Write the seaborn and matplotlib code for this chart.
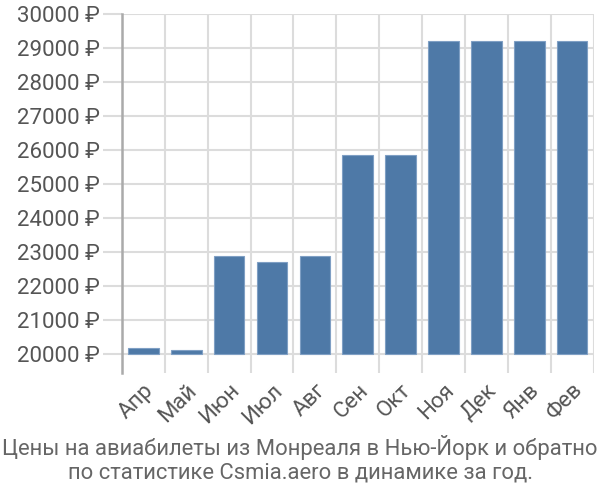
import matplotlib
matplotlib.use("Agg")
import matplotlib.pyplot as plt
import seaborn as sns
import pandas as pd
from matplotlib.ticker import FixedLocator, FuncFormatter

months = ["Апр", "Май", "Июн", "Июл", "Авг", "Сен", "Окт", "Ноя", "Дек", "Янв", "Фев"]
prices = [20170, 20110, 22880, 22720, 22880, 25850, 25850, 29210, 29210, 29210, 29210]
yticks = [20000, 21000, 22000, 23000, 24000, 25000, 26000, 27000, 28000, 29000, 30000]
base = 20000
title_lines = ["Цены на авиабилеты из Монреаля в Нью-Йорк и обратно",
               "по статистике Csmia.aero в динамике за год."]

sns.set_theme(style="white")
plt.rcParams['font.family'] = ['Roboto', 'DejaVu Sans']

df = pd.DataFrame({"month": months, "price": prices})

fig = plt.figure(figsize=(6, 5), dpi=100)
ax = fig.add_axes([122/600, 1 - 373/500, (593.5 - 122)/600, (373 - 14)/500])

sns.barplot(data=df, x="month", y="price", color="#4e79a7", width=0.715,
            saturation=1, edgecolor="#7f9fc4", linewidth=0.8, ax=ax, zorder=3)

for p, v in zip(ax.patches, prices):
    p.set_y(base)
    p.set_height(v - base)

ax.set_xlim(-0.5, len(months) - 0.5)
ax.set_ylim(base - (373 - 354) / 34 * 1000, 30000)

grid_c = "#dcdcdc"
fs = 16.0
ax.yaxis.set_major_locator(FixedLocator(yticks))
ax.yaxis.set_major_formatter(FuncFormatter(lambda v, pos: f"{int(v)} ₽"))
ax.xaxis.set_minor_locator(FixedLocator([i - 0.5 for i in range(len(months) + 1)]))

ax.grid(True, axis="y", which="major", color=grid_c, linewidth=1.5, zorder=0)
ax.grid(True, axis="x", which="minor", color=grid_c, linewidth=1.5, zorder=0)
ax.grid(False, axis="x", which="major")

ax.tick_params(axis="y", which="major", length=14, width=1.5, color=grid_c,
               labelsize=fs, labelcolor="#555555", pad=2, left=True)
ax.tick_params(axis="x", which="major", length=0, labelsize=fs,
               labelcolor="#555555", pad=5)
ax.tick_params(axis="x", which="minor", length=0)

for lbl in ax.get_xticklabels():
    lbl.set_rotation(45)
    lbl.set_ha("right")
    lbl.set_rotation_mode("anchor")

for s in ["top", "right", "bottom"]:
    ax.spines[s].set_visible(False)
ax.spines["left"].set_color("#aaaaaa")
ax.spines["left"].set_linewidth(1.8)

ax.set_xlabel("")
ax.set_ylabel("")

fig.text(0.5, 1 - 447/500, title_lines[0], ha="center", va="center",
         fontsize=15.8, color="#666666")
fig.text(0.5, 1 - 473/500, title_lines[1], ha="center", va="center",
         fontsize=15.8, color="#666666")

fig.savefig("out.png", dpi=100)
